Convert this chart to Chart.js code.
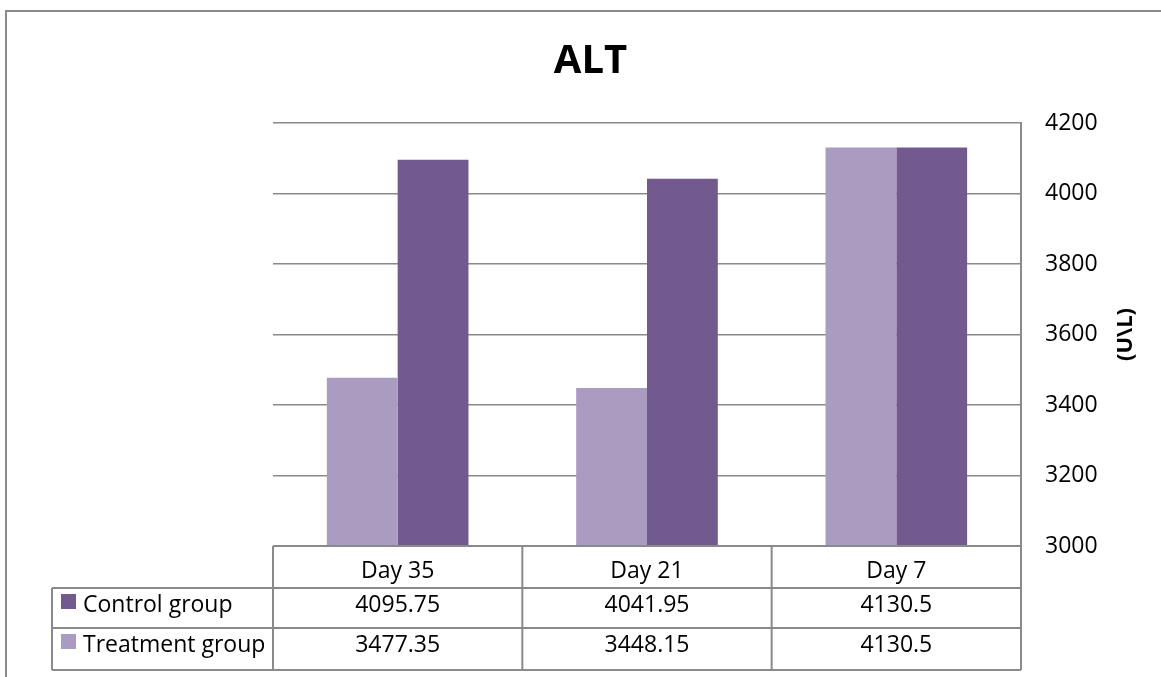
<!DOCTYPE html>
<html>
<head>
<meta charset="utf-8">
<script src="https://cdn.jsdelivr.net/npm/chart.js@4.4.1/dist/chart.umd.min.js"></script>
<style>
  html, body { margin: 0; padding: 0; background: #fff; }
</style>
</head>
<body>
<canvas id="graficaALT" width="1161" height="677"></canvas>
<script>
// datos
const dias = ['Day 35', 'Day 21', 'Day 7'];
const control = [4095.75, 4041.95, 4130.5];
const tratamiento = [3477.35, 3448.15, 4130.5];
const ejeMin = 3000;
const ejeMax = 4200;
const ejePaso = 200;
const tituloEje = '(U\\L)';

const COLOR_CONTROL = '#725a8f';
const COLOR_TRAT = '#aa9bc1';
const GRIS = '#8a8a8a';
const FUENTE = "'Open Sans', sans-serif";

// marco exterior del grafico
const marco = {
    id: 'marco',
    beforeDraw(chart) {
        const ctx = chart.ctx;
        ctx.save();
        ctx.strokeStyle = GRIS;
        ctx.lineWidth = 2;
        ctx.strokeRect(6, 11, 1170, 700);
        ctx.restore();
    }
};

// titulo del eje derecho, girado como en Excel (de abajo hacia arriba)
const tituloDerecho = {
    id: 'tituloDerecho',
    afterDraw(chart) {
        const { ctx, chartArea: a } = chart;
        ctx.save();
        ctx.translate(1126, (a.top + a.bottom) / 2);
        ctx.rotate(-Math.PI / 2);
        ctx.fillStyle = '#000';
        ctx.font = 'bold 22px ' + FUENTE;
        ctx.textAlign = 'center';
        ctx.textBaseline = 'middle';
        ctx.fillText(tituloEje, 0, 0);
        ctx.restore();
    }
};

// tabla de datos debajo de las barras (estilo Excel)
const tablaDatos = {
    id: 'tablaDatos',
    afterDraw(chart) {
        const { ctx, chartArea: a, scales: { x } } = chart;
        const ancho = (a.right - a.left) / dias.length;
        const y0 = a.bottom, y1 = y0 + 42, y2 = y1 + 40, y3 = y2 + 42;
        const izq = 52;
        ctx.save();
        ctx.strokeStyle = GRIS;
        ctx.lineWidth = 2;
        ctx.beginPath();
        ctx.moveTo(a.left, y0); ctx.lineTo(a.right, y0);
        [y1, y2, y3].forEach(y => { ctx.moveTo(izq, y); ctx.lineTo(a.right, y); });
        ctx.moveTo(izq, y1); ctx.lineTo(izq, y3);
        for (let i = 0; i <= dias.length; i++) {
            const xx = a.left + i * ancho;
            ctx.moveTo(xx, y0); ctx.lineTo(xx, y3);
        }
        ctx.stroke();

        ctx.fillStyle = '#000';
        ctx.font = '23px ' + FUENTE;
        ctx.textBaseline = 'alphabetic';
        ctx.textAlign = 'center';
        dias.forEach((d, i) => {
            const cx = x.getPixelForValue(i);
            ctx.fillText(d, cx, y0 + 32);
            ctx.fillText(String(control[i]), cx, y1 + 24);
            ctx.fillText(String(tratamiento[i]), cx, y2 + 24);
        });

        const filas = [
            { texto: 'Control group', color: COLOR_CONTROL, y: y1 },
            { texto: 'Treatment group', color: COLOR_TRAT, y: y2 }
        ];
        ctx.textAlign = 'left';
        filas.forEach(f => {
            ctx.fillStyle = f.color;
            ctx.fillRect(61, f.y + 6, 15, 15);
            ctx.fillStyle = '#000';
            ctx.fillText(f.texto, 83, f.y + 24);
        });
        ctx.restore();
    }
};

const ctx = document.getElementById('graficaALT').getContext('2d');
new Chart(ctx, {
    type: 'bar',
    data: {
        labels: dias,
        datasets: [
            {
                label: 'Treatment group',
                data: tratamiento,
                backgroundColor: COLOR_TRAT,
                yAxisID: 'y'
            },
            {
                label: 'Control group',
                data: control,
                backgroundColor: COLOR_CONTROL,
                yAxisID: 'y'
            }
        ]
    },
    options: {
        responsive: false,
        animation: false,
        devicePixelRatio: 1,
        layout: { padding: { left: 20, top: 0, right: 0, bottom: 131 } },
        datasets: { bar: { categoryPercentage: 0.568, barPercentage: 1.0 } },
        plugins: {
            legend: { display: false },
            tooltip: { enabled: false },
            title: {
                display: true,
                text: 'ALT',
                color: '#000',
                font: { family: FUENTE, size: 40, weight: 'bold', lineHeight: 1.2 },
                padding: { top: 38, bottom: 37 }
            }
        },
        scales: {
            x: {
                display: false
            },
            izq: {
                type: 'linear',
                position: 'left',
                display: true,
                grid: { display: false },
                border: { display: false },
                ticks: { display: false },
                afterFit(scale) { scale.width = 253; }
            },
            y: {
                type: 'linear',
                position: 'right',
                min: ejeMin,
                max: ejeMax,
                ticks: {
                    stepSize: ejePaso,
                    padding: 24,
                    color: '#000',
                    font: { family: FUENTE, size: 23 },
                    callback: v => String(v)
                },
                grid: { color: GRIS, lineWidth: 1.5, drawTicks: false },
                border: { display: true, color: GRIS, width: 2 },
                afterFit(scale) { scale.width = 140; }
            }
        }
    },
    plugins: [marco, tituloDerecho, tablaDatos]
});
</script>
</body>
</html>
